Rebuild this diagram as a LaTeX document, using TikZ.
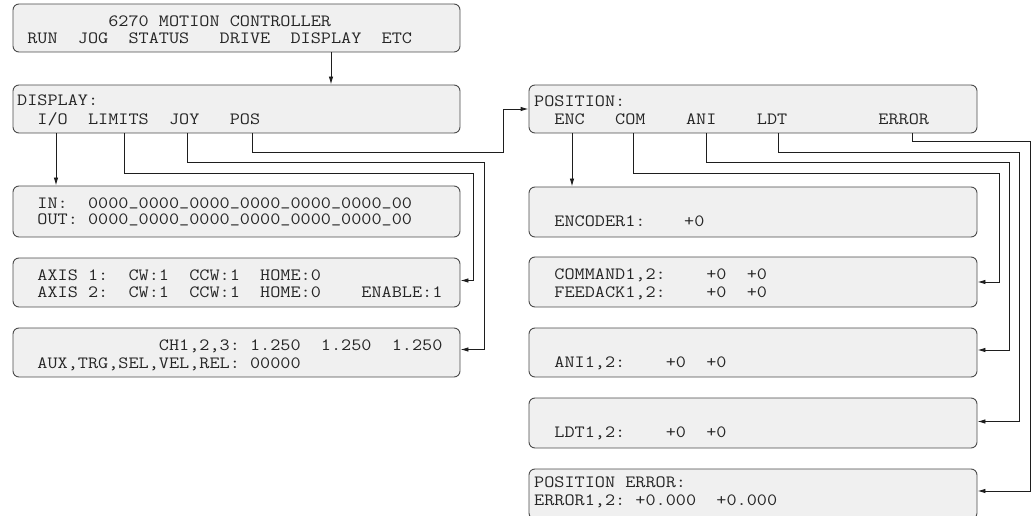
\documentclass[tikz,border=0pt]{standalone}
\usepackage{fontspec}
\usepackage{graphicx}
\usetikzlibrary{arrows.meta}
\definecolor{boxfill}{HTML}{F0F0F0}
\definecolor{boxline}{HTML}{4A4A4A}
\definecolor{wire}{HTML}{1E1E1E}
\newcommand\panelfont{\ttfamily\fontsize{17.2pt}{17.2pt}\selectfont\def~{\phantom{0}}}
\newcommand\wide[1]{\scalebox{1.1429}[1]{#1}}
\newcommand\us{\raisebox{2.5pt}{\_}}
\tikzset{
  screen/.style 2 args={draw=boxline, fill=boxfill, line width=0.9pt, rounded corners=6pt,
    inner sep=0pt, minimum width=#1, minimum height=#2},
  txt/.style={anchor=base west, inner sep=0pt, text=black!85, font=\panelfont},
  wireline/.style={draw=wire, line width=0.9pt},
  arr/.style={wireline, -{Latex[length=8pt,width=4.5pt]}},
}
\begin{document}
\begin{tikzpicture}[x=1pt,y=-1pt]
\useasboundingbox (0,0) rectangle (1034,516);
% ---------- boxes ----------
\node[screen={447pt}{48pt}] (top)  at (236.5,28) {};
\node[screen={447pt}{48pt}] (disp) at (236.5,109) {};
\node[screen={447pt}{51pt}] (io)   at (236.5,211.5) {};
\node[screen={447pt}{49pt}] (axis) at (236.5,282.5) {};
\node[screen={447pt}{49pt}] (ch)   at (236.5,352.5) {};
\node[screen={448pt}{48pt}] (pos)  at (753,109) {};
\node[screen={448pt}{50pt}] (enc)  at (753,212) {};
\node[screen={448pt}{50pt}] (com)  at (753,282) {};
\node[screen={448pt}{49pt}] (ani)  at (753,352.5) {};
\node[screen={448pt}{50pt}] (ldt)  at (753,423) {};
\node[screen={448pt}{50pt}] (err)  at (753,494) {};
% ---------- texts ----------
\node[txt] (topA) at (17,26.5) {\wide{~~~~~~~~~6270~MOTION~CONTROLLER}};
\node[txt] (topB) at (17,44) {\wide{~RUN~~JOG~~STATUS~~~DRIVE~~DISPLAY~~ETC}};
\node[txt] (dispA) at (17,106) {\wide{DISPLAY:}};
\node[txt] (dispB) at (17,125) {\wide{~~I/O~~LIMITS~~JOY~~~POS}};
\node[txt] (ioA) at (17,208) {\wide{~~IN:~~0000\us0000\us0000\us0000\us0000\us0000\us00}};
\node[txt] (ioB) at (17,225) {\wide{~~OUT:~0000\us0000\us0000\us0000\us0000\us0000\us00}};
\node[txt] (axA) at (17,280) {\wide{~~AXIS~1:~~CW:1~~CCW:1~~HOME:0}};
\node[txt] (axB) at (17,297) {\wide{~~AXIS~2:~~CW:1~~CCW:1~~HOME:0~~~~ENABLE:1}};
\node[txt] (chA) at (17,350) {\wide{~~~~~~~~~~~~~~CH1,2,3:~1.250~~1.250~~1.250}};
\node[txt] (chB) at (17,368) {\wide{~~AUX,TRG,SEL,VEL,REL:~00000}};
\node[txt] (posA) at (534,106.5) {\wide{POSITION:}};
\node[txt] (posB) at (534,125) {\wide{~~ENC~~~COM~~~~ANI~~~~LDT~~~~~~~~~ERROR}};
\node[txt] (encA) at (534,226.5) {\wide{~~ENCODER1:}};
\node[txt] (encV) at (684,226.5) {\wide{+0}};
\node[txt] (comA) at (534,279.5) {\wide{~~COMMAND1,2:~~~~+0~~+0}};
\node[txt] (comB) at (534,297) {\wide{~~FEEDACK1,2:~~~~+0~~+0}};
\node[txt] (aniA) at (534,367) {\wide{~~ANI1,2:~~~~+0~~+0}};
\node[txt] (ldtA) at (534,437) {\wide{~~LDT1,2:~~~~+0~~+0}};
\node[txt] (errA) at (534,487) {\wide{POSITION~ERROR:}};
\node[txt] (errB) at (534,505) {\wide{ERROR1,2:~+0.000~~+0.000}};
% ---------- column positions ----------
\coordinate (xDisp) at (331,0);
\coordinate (xIO)   at (56,0);
\coordinate (xLim)  at (124,0);
\coordinate (xJoy)  at (187,0);
\coordinate (xPos)  at (252,0);
\coordinate (xEnc)  at (572,0);
\coordinate (xCom)  at (633,0);
\coordinate (xAni)  at (706,0);
\coordinate (xLdt)  at (778,0);
\coordinate (xErr)  at (912,0);
% bend points
\coordinate (bLim) at (473,173);
\coordinate (bJoy) at (484,162.5);
\coordinate (bPos) at (503,152);
\coordinate (bCom) at (999,173);
\coordinate (bAni) at (1009,162.5);
\coordinate (bLdt) at (1019,152);
\coordinate (bErr) at (1030,141.5);
% ---------- connectors ----------
\draw[arr] (top.south -| xDisp) -- (disp.north -| xDisp);
\draw[arr] (disp.south -| xIO) -- (io.north -| xIO);
\draw[arr] (disp.south -| xLim) |- (bLim) |- ([yshift=2pt]axis.east);
\draw[arr] (disp.south -| xJoy) |- (bJoy) |- ([yshift=3pt]ch.east);
\draw[arr] (disp.south -| xPos) |- (bPos) |- (pos.west);
\draw[arr] (pos.south -| xEnc) -- (enc.north -| xEnc);
\draw[arr] (pos.south -| xCom) |- (bCom) |- (com.east);
\draw[arr] (pos.south -| xAni) |- (bAni) |- ([yshift=2.5pt]ani.east);
\draw[arr] (pos.south -| xLdt) |- (bLdt) |- ([yshift=1.5pt]ldt.east);
\draw[arr] (pos.south -| xErr) |- (bErr) |- ([yshift=3pt]err.east);
\end{tikzpicture}
\end{document}
